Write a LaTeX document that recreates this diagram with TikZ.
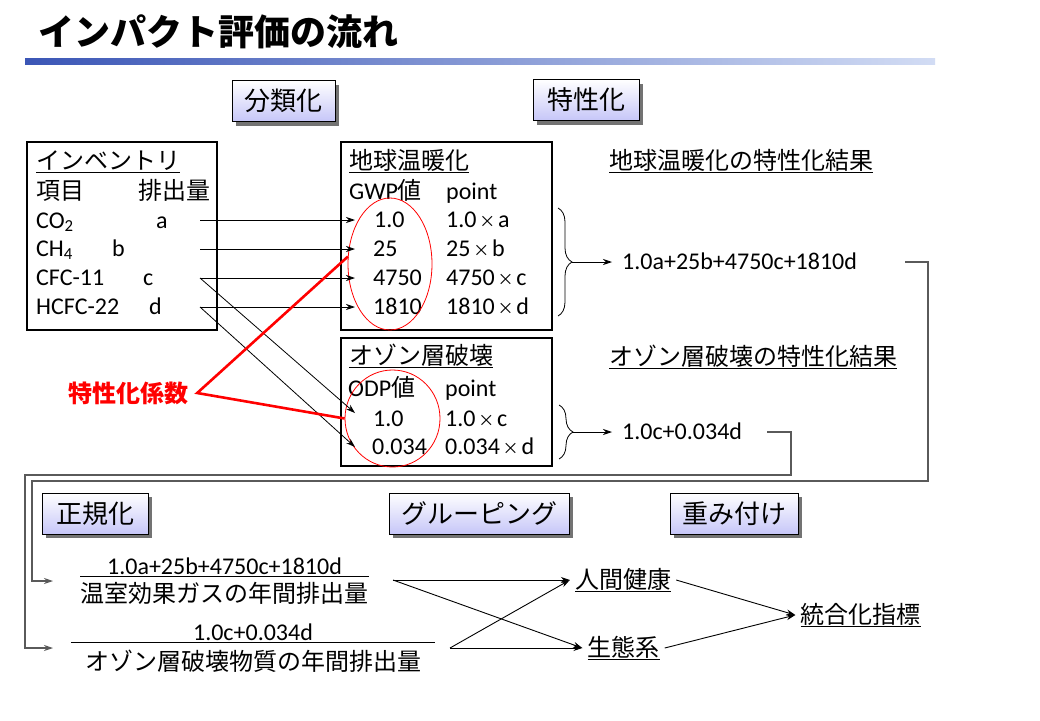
\documentclass[tikz,border=0pt]{standalone}
\usepackage{fontspec}
\setmainfont{Carlito}
\newfontfamily\jp{Noto Sans CJK JP}
\usepackage{tikz}
\usetikzlibrary{arrows.meta,positioning,shapes.geometric,shadows,decorations.pathreplacing}
\definecolor{barblue}{HTML}{3B56B6}
\definecolor{barpale}{HTML}{D2DCF4}
\definecolor{lilac}{HTML}{C6C6F8}
\definecolor{wiregray}{HTML}{5A5A5A}
\newsavebox\hdbox
\newcommand{\hd}[1]{\sbox\hdbox{#1}\rlap{\rule[-3.5pt]{\wd\hdbox}{1pt}}\usebox\hdbox}
\newcommand{\by}{\makebox[0.9em]{\jp\fontsize{16pt}{20pt}\selectfont ×}}

\begin{document}
\begin{tikzpicture}[x=1pt,y=-1pt,>={Stealth[length=9pt,width=6pt]},
    font=\fontsize{24pt}{29pt}\selectfont,
    stage/.style={draw,line width=1pt,top color=white,bottom color=lilac,
      minimum height=41pt,inner xsep=12pt,font=\fontsize{26pt}{31pt}\selectfont\jp,
      drop shadow={shadow xshift=4pt,shadow yshift=-4pt,fill=black!55,opacity=1}},
    panel/.style={draw,line width=1.2pt,inner sep=0pt},
    txt/.style={anchor=west,inner sep=0pt,text height=18pt,text depth=4pt},
    res/.style={txt,inner xsep=10pt},
    goal/.style={inner xsep=5pt,inner ysep=0pt,font=\fontsize{24pt}{29pt}\selectfont\jp},
    den/.style={inner xsep=0pt,inner ysep=4pt,text height=21pt,text depth=3pt,
      font=\fontsize{24pt}{29pt}\selectfont\jp},
    num/.style={inner xsep=0pt,inner ysep=2pt,text height=16pt,text depth=0pt},
    ring/.style={draw=red,ellipse,line width=0.8pt,inner sep=0pt},
    coefline/.style={draw=red,line width=2.6pt},
    feed/.style={->,line width=0.8pt},
    wire/.style={->,draw=wiregray,line width=1.2pt},
    link/.style={->,line width=0.9pt},
    cbrace/.style={decorate,decoration={brace,amplitude=14pt},line width=0.8pt}]
  \fill[white] (0,0) rectangle (1040,720);
  \useasboundingbox (0,0) rectangle (1040,720);

  % title and bar
  \node[anchor=west,inner sep=0pt,font=\fontsize{36pt}{40pt}\selectfont\jp\bfseries] (title) at (38,32) {インパクト評価の流れ};
  \shade[left color=barblue,right color=barpale] (25,58) rectangle (935,64);

  % stages
  \node[stage,minimum width=103pt] (classify) at (283.5,101) {分類化};
  \node[stage,minimum width=106pt] (charact)  at (586,100)   {特性化};
  \node[stage,minimum width=106pt] (normal)   at (95,513.5)  {正規化};
  \node[stage,minimum width=180pt] (group)    at (479,513.5) {グルーピング};
  \node[stage,minimum width=124pt] (weight)   at (734,513.5) {重み付け};

  % inventory
  \node[panel,minimum width=190pt,minimum height=188pt] (inv) at (122,236) {};
  \node[txt] (invhead) at (36,162) {\hd{\jp インベントリ}};
  \node[txt] (item)    at (36,192) {\jp 項目};
  \node[txt] (amount)  at (138,192) {\jp 排出量};
  \node[txt] (gas1) at (36,221) {CO\textsubscript{2}};
  \node[txt] (gas2) at (36,249) {CH\textsubscript{4}};
  \node[txt] (gas3) at (36,278) {CFC-11};
  \node[txt] (gas4) at (36,307) {HCFC-22};
  \node[txt] (amt1) at (156,221) {a};
  \node[txt] (amt2) at (112,249) {b};
  \node[txt] (amt3) at (143,278) {c};
  \node[txt] (amt4) at (149,307) {d};
  \coordinate (src1) at (200,220);
  \coordinate (src2) at (200,249);
  \coordinate (src3) at (200,278);
  \coordinate (src4) at (200,307);

  % global warming
  \node[panel,minimum width=211pt,minimum height=188pt] (gwp) at (446.5,236) {};
  \node[txt] (gwphead) at (349,162) {\hd{\jp 地球温暖化}};
  \node[txt] (gwpval)  at (349,192) {GWP{\jp 値}};
  \node[txt] (gwppt)   at (446,192) {point};
  \node[txt] (g1) at (374,220) {1.0};
  \node[txt] (g2) at (373,249) {25};
  \node[txt] (g3) at (373,278) {4750};
  \node[txt] (g4) at (373,307) {1810};
  \node[txt] (p1) at (446,220) {1.0\by a};
  \node[txt] (p2) at (446,249) {25\by b};
  \node[txt] (p3) at (446,278) {4750\by c};
  \node[txt] (p4) at (446,307) {1810\by d};
  \node[ring,minimum width=84pt,minimum height=132pt] (gring) at (390,264) {};

  % ozone depletion
  \node[panel,minimum width=211pt,minimum height=128pt] (odp) at (446.5,402) {};
  \node[txt] (odphead) at (349,357) {\hd{\jp オゾン層破壊}};
  \node[txt] (odpval)  at (348,389) {ODP{\jp 値}};
  \node[txt] (odppt)   at (445,389) {point};
  \node[txt] (o1) at (373,419) {1.0};
  \node[txt] (o2) at (372,447) {0.034};
  \node[txt] (q1) at (445,419) {1.0\by c};
  \node[txt] (q2) at (445,447) {0.034\by d};
  \node[ring,minimum width=95pt,minimum height=97pt] (oring) at (392.5,418.5) {};

  \draw[feed] (src1) -- ([xshift=-19pt]g1.west);
  \draw[feed] (src2) -- ([xshift=-18pt]g2.west);
  \draw[feed] (src3) -- ([xshift=-18pt]g3.west);
  \draw[feed] (src4) -- ([xshift=-18pt]g4.west);
  \draw[feed] (src3) -- ([xshift=-18pt,yshift=6pt]o1.west);
  \draw[feed] (src4) -- ([xshift=-17pt]o2.west);

  % coefficients
  \node[inner xsep=9pt,inner ysep=0pt,text=red,font=\fontsize{24pt}{29pt}\selectfont\jp\bfseries] (coef) at (128,393) {特性化係数};
  \draw[coefline] (gring.170) -- (coef.east) -- (oring.west);

  % characterisation results
  \node[txt] (gwpres) at (609,162) {\hd{\jp 地球温暖化の特性化結果}};
  \node[txt] (odpres) at (609,358) {\hd{\jp オゾン層破壊の特性化結果}};
  \draw[cbrace] (558,208) -- (558,316);
  \draw[cbrace] (559,405) -- (559,459);
  \coordinate (gtip) at (572,262);
  \coordinate (otip) at (572,432);
  \node[res] (gres) at (612,262) {1.0a+25b+4750c+1810d};
  \node[res] (ores) at (612,432) {1.0c+0.034d};
  \draw[feed] (gtip) -- (gres.west);
  \draw[feed] (otip) -- (ores.west);

  % normalisation
  \node[den] (den1) at (224.5,593) {温室効果ガスの年間排出量};
  \node[num,above=0pt of den1] (num1) {1.0a+25b+4750c+1810d};
  \draw[line width=1pt] (den1.north west) -- (den1.north east);
  \node[den,inner xsep=14pt,inner ysep=6pt] (den2) at (253,661) {オゾン層破壊物質の年間排出量};
  \node[num,above=0pt of den2] (num2) {1.0c+0.034d};
  \draw[line width=1pt] (den2.north west) -- (den2.north east);

  \coordinate (gout) at (905,262);
  \coordinate (oout) at (767,432);
  \coordinate (f1in) at (53,581);
  \coordinate (f2in) at (53,648);
  \draw[wire] (gout) -- (928,262) |- (32,481) |- (f1in);
  \draw[wire] (oout) -- (791,432) |- (25,475) |- (f2in);

  % grouping and weighting
  \coordinate (x1) at (393,580);
  \coordinate (x2) at (450,648);
  \node[goal] (human) at (623,580)   {\hd{人間健康}};
  \node[goal] (eco)   at (623.5,648) {\hd{生態系}};
  \node[goal] (total) at (860.5,615) {\hd{統合化指標}};
  \draw[link] (x1) -- (human.west);
  \draw[link] (x1) -- (eco.west);
  \draw[link] (x2) -- (eco.west);
  \draw[link] (x2) -- (human.west);
  \draw[link] (human.east) -- (total.west);
  \draw[link] (eco.east) -- (total.west);
\end{tikzpicture}
\end{document}
